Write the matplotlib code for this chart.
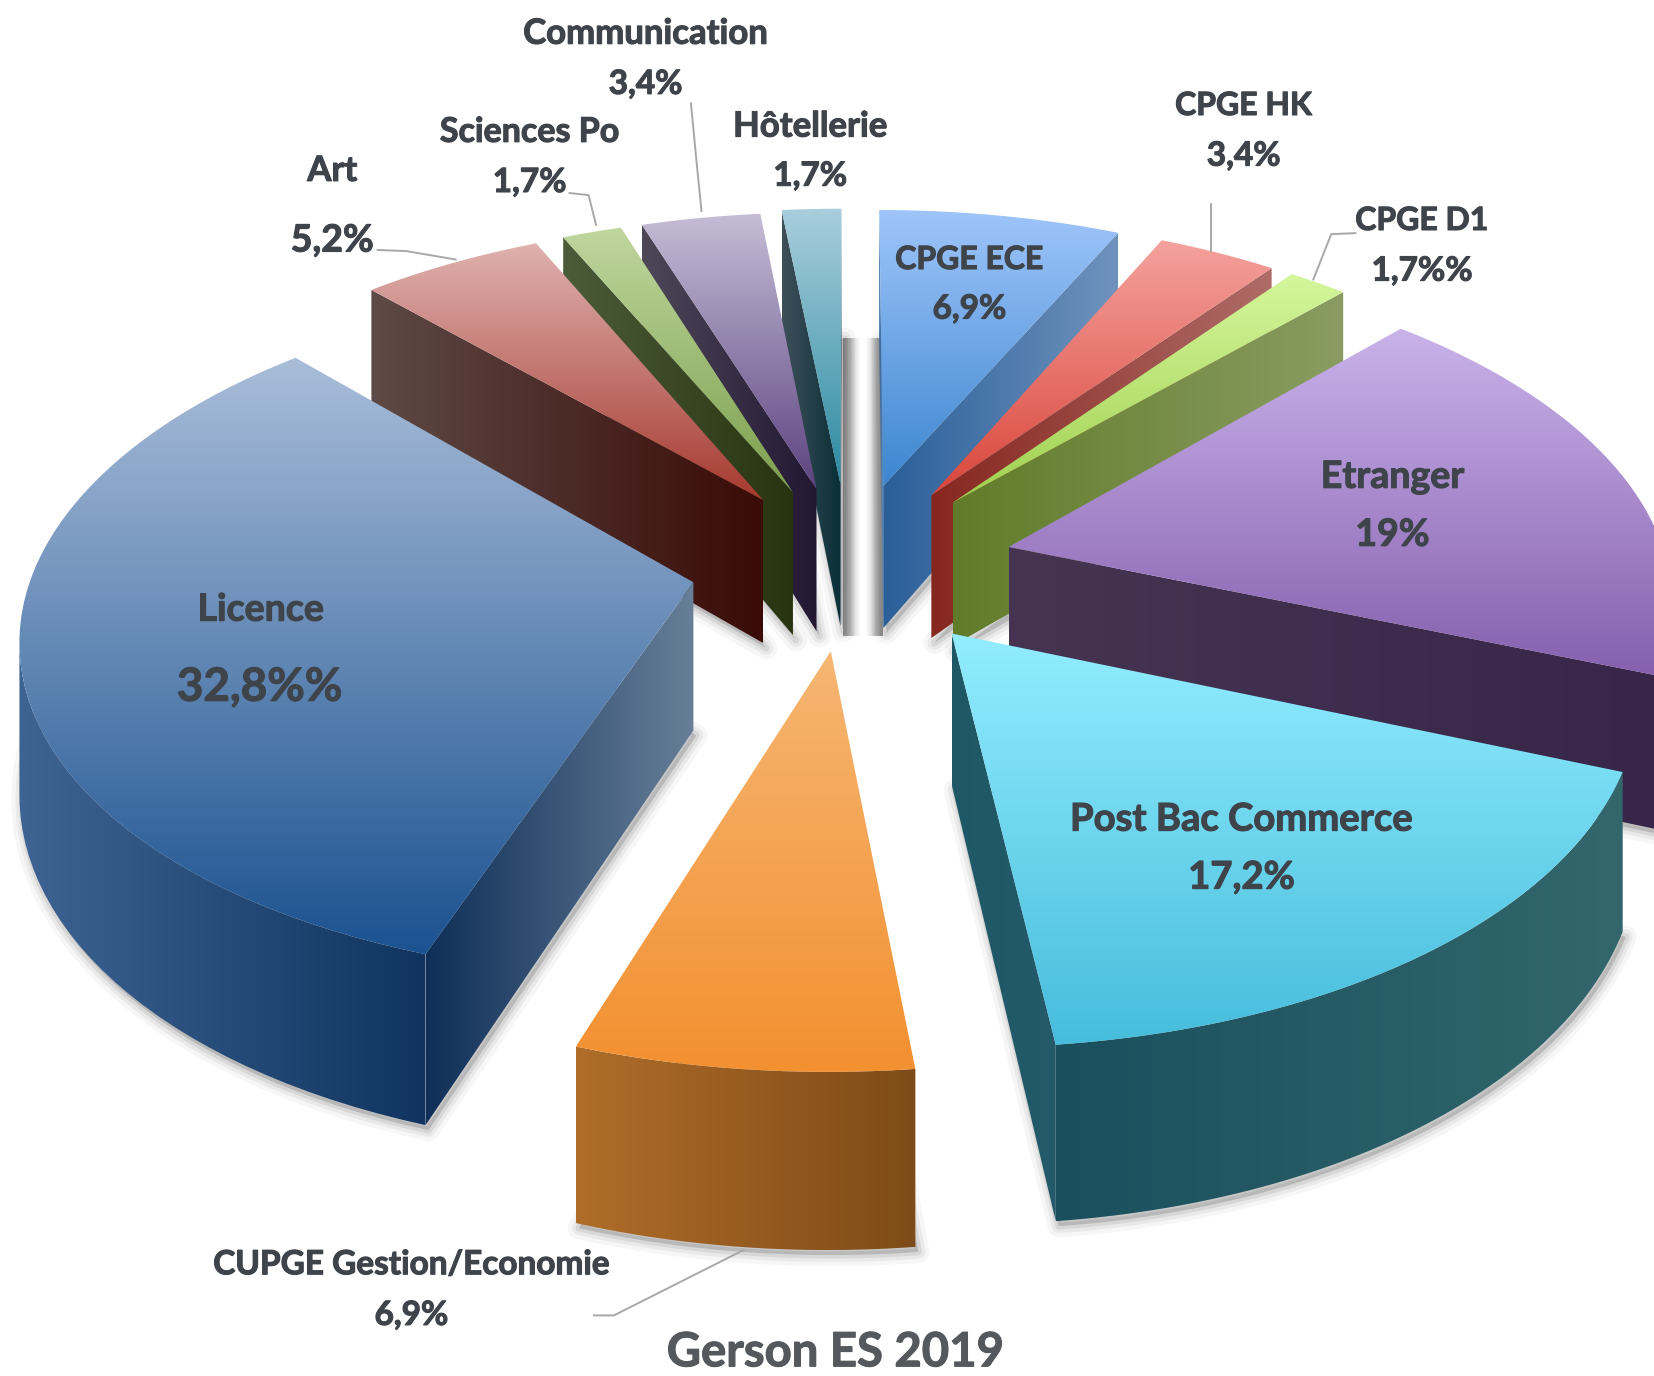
import numpy as np
from matplotlib import pyplot as plt
from matplotlib import patheffects as pe
from matplotlib.colors import to_rgb
from matplotlib.patches import Polygon

plt.rcParams['font.family'] = ['Lato', 'DejaVu Sans']

# data, clockwise from 12 o'clock
labels = ['CPGE ECE', 'CPGE HK', 'CPGE D1', 'Etranger', 'Post Bac Commerce', 'CUPGE Gestion/Economie',
          'Licence', 'Art', 'Sciences Po', 'Communication', 'Hôtellerie']
shares = [6.9, 3.4, 1.7, 19.0, 17.2, 6.9, 32.8, 5.2, 1.7, 3.4, 1.7]
share_texts = ['6,9%', '3,4%', '1,7%%', '19%', '17,2%', '6,9%', '32,8%%', '5,2%', '1,7%', '3,4%', '1,7%']
title = 'Gerson ES 2019'

# how far each slice is pulled out
explode = [0.25, 0.25, 0.25, 0.25, 0.25, 0.25, 0.24, 0.24, 0.24, 0.24, 0.25]

# colours: top face (back, front), cut wall (left, right), rim (left, right)
top_colors = [('#9fc5fa', '#3c86d0'), ('#f5a29e', '#d9463b'), ('#d5f69c', '#9fd04f'), ('#c9b2ea', '#8660ae'),
              ('#93edff', '#46bddc'), ('#f6b673', '#f39030'), ('#a9bdd9', '#1b5290'), ('#dfb2b0', '#a63a30'),
              ('#bfd69e', '#7da04e'), ('#c5bdd6', '#5c4380'), ('#a9cedd', '#2c8aa0')]
wall_colors = [('#2a5f98', '#7093be'), ('#86271f', '#af6c68'), ('#607c2a', '#8a9c62'), ('#463452', '#37264a'),
               ('#1e5866', '#245a6a'), ('#8a5420', '#8a5420'), ('#0f2f58', '#677f98'), ('#5e4a46', '#3a0b07'),
               ('#4c5c3a', '#28340f'), ('#4e4859', '#231733'), ('#3e505a', '#0a2f37')]
rim_colors = [('#6f93be', '#6f93be'), ('#af6c68', '#af6c68'), ('#8a9c62', '#8a9c62'), ('#37264a', '#37264a'),
              ('#1a4f5e', '#33676c'), ('#b06d29', '#7e4b18'), ('#3e6494', '#10345f'), ('#5e4a46', '#5e4a46'),
              ('#4c5c3a', '#4c5c3a'), ('#4e4859', '#4e4859'), ('#3e505a', '#3e505a')]

# view of the pie, in output pixels
WIDTH, HEIGHT = 1654, 1376
CX, CY = 849, 565
RX, RY = 659, 335
DEPTH = 147
PERSPECTIVE = 0.14
SCALE = WIDTH / 1568

TEXT = '#3f444b'


def project(x, y, drop=0.0):
    """World point on the pie plane (y away from viewer) to pixels."""
    w = 1 + PERSPECTIVE * y
    return CX + RX * x / w, CY + (-RY * y + DEPTH * drop) / w


def signed_area(pts):
    pts = np.asarray(pts)
    x, y = pts[:, 0], pts[:, 1]
    return np.sum(x * np.roll(y, -1) - np.roll(x, -1) * y)


def gradient_fill(ax, verts, colors, horizontal, z):
    verts = np.asarray(verts)
    c0, c1 = np.array(to_rgb(colors[0])), np.array(to_rgb(colors[1]))
    t = np.linspace(0, 1, 256)[:, None]
    grad = c0 * (1 - t) + c1 * t
    grad = grad[None, :, :] if horizontal else grad[:, None, :]
    x0, x1 = verts[:, 0].min(), verts[:, 0].max()
    y0, y1 = verts[:, 1].min(), verts[:, 1].max()
    patch = Polygon(verts, closed=True, transform=ax.transData, fc='none', ec='none')
    ax.add_patch(patch)
    im = ax.imshow(grad, extent=(x0, x1, y1, y0), aspect='auto', zorder=z, interpolation='bilinear')
    im.set_clip_path(patch)


def draw_slice(ax, a0, a1, i, z):
    mid = (a0 + a1) / 2
    ox, oy = explode[i] * np.sin(mid), explode[i] * np.cos(mid)
    angles = np.linspace(a0, a1, 60)
    arc_top = [project(ox + np.sin(a), oy + np.cos(a)) for a in angles]
    arc_bot = [project(ox + np.sin(a), oy + np.cos(a), 1) for a in angles]
    apex_top, apex_bot = project(ox, oy), project(ox, oy, 1)

    # soft shadow below the lower edge
    floor = [apex_bot] + arc_bot
    for lw, alpha in zip((16, 10, 5), (0.05, 0.08, 0.12)):
        ax.add_patch(Polygon(np.array(floor) + (3, 5), closed=True, fc='#555555', ec='#555555',
                             lw=lw, alpha=alpha, zorder=1, joinstyle='round'))

    # cut walls, only where they face the viewer
    start = [apex_top, arc_top[0], arc_bot[0], apex_bot]
    end = [arc_top[-1], apex_top, apex_bot, arc_bot[-1]]
    for wall in (start, end):
        if signed_area(wall) < 0:
            gradient_fill(ax, wall, wall_colors[i], True, z)

    # rim
    seen = [k for k in range(len(angles) - 1)
            if signed_area([arc_top[k], arc_top[k + 1], arc_bot[k + 1], arc_bot[k]]) < 0]
    if seen:
        idx = list(range(seen[0], seen[-1] + 2))
        rim = [arc_top[k] for k in idx] + [arc_bot[k] for k in idx[::-1]]
        gradient_fill(ax, rim, rim_colors[i], True, z + 0.1)

    gradient_fill(ax, [apex_top] + arc_top, top_colors[i], False, z + 0.2)


def put(ax, x, y, s, size=25, color=TEXT):
    ax.text(x * SCALE, (y + 2) * SCALE, s, ha='center', va='center', fontsize=size, fontweight='bold',
            color=color, zorder=50, path_effects=[pe.withStroke(linewidth=0.8, foreground=color)])


def leader(ax, xs, ys):
    ax.plot(np.array(xs) * SCALE, np.array(ys) * SCALE, color='#a8a8a8', lw=1.4, zorder=40)


fig = plt.figure(figsize=(WIDTH / 100, HEIGHT / 100), dpi=100)
ax = fig.add_axes([0, 0, 1, 1])
ax.axis('off')

# grey strip seen through the gap at the back
strip = np.array([0.6, 0.72, 0.9, 1.0, 1.0, 0.9, 0.7, 0.58])[None, :]
ax.imshow(strip, cmap='gray', vmin=0, vmax=1, extent=(843, 883, 636, 338), aspect='auto', zorder=0.5,
          interpolation='bilinear')

edges = 2 * np.pi * np.concatenate(([0], np.cumsum(shares))) / np.sum(shares)
mids = (edges[:-1] + edges[1:]) / 2
order = np.argsort(-np.cos(mids))
for rank, i in enumerate(order):
    draw_slice(ax, edges[i], edges[i + 1], i, 2 + rank)

# leader lines
leader(ax, [358, 385, 432], [237, 238, 246])
leader(ax, [540, 558, 565], [183, 185, 213])
leader(ax, [655, 660, 665], [98, 150, 200])
leader(ax, [1148, 1148], [193, 238])
leader(ax, [1285, 1262, 1245], [221, 222, 265])
leader(ax, [563, 582, 705], [1247, 1247, 1185])

# outside labels, inside labels
put(ax, 919, 244, labels[0], 23); put(ax, 919, 291, share_texts[0], 24)
put(ax, 1179, 98, labels[1], 23); put(ax, 1179, 146, share_texts[1], 24)
put(ax, 1348, 207, labels[2], 23); put(ax, 1348, 255, share_texts[2], 24)
put(ax, 1320, 450, labels[3], 27); put(ax, 1320, 505, share_texts[3], 27)
put(ax, 1177, 775, labels[4], 27.5); put(ax, 1177, 830, share_texts[4], 27.5)
put(ax, 390, 1197, labels[5], 24); put(ax, 390, 1245, share_texts[5], 24)
put(ax, 247, 576, labels[6], 27); put(ax, 246, 650, share_texts[6], 33)
put(ax, 315, 160, labels[7]); put(ax, 315, 226, share_texts[7], 27)
put(ax, 502, 123, labels[8], 24.5); put(ax, 502, 171, share_texts[8], 24)
put(ax, 612, 30, labels[9]); put(ax, 612, 78, share_texts[9], 24)
put(ax, 768, 118, labels[10]); put(ax, 768, 165, share_texts[10], 24)
put(ax, 792, 1280, title, 34, '#55585c')

ax.set_xlim(0, WIDTH)
ax.set_ylim(HEIGHT, 0)
fig.savefig('out.png', dpi=100, facecolor='white')
